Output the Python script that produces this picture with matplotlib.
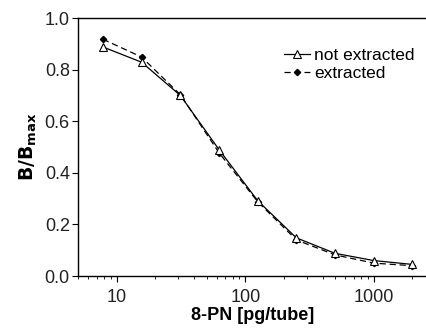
import numpy as np
import matplotlib.pyplot as plt
from matplotlib.ticker import LogLocator, NullFormatter, FixedLocator

plt.rcParams['font.family'] = ['Liberation Sans', 'DejaVu Sans']

conc = [7.8, 15.6, 31.25, 62.5, 125, 250, 500, 1000, 2000]
not_extracted = [0.888, 0.829, 0.700, 0.490, 0.292, 0.148, 0.088, 0.060, 0.045]
extracted = [0.918, 0.849, 0.703, 0.478, 0.288, 0.140, 0.082, 0.050, 0.040]

fig = plt.figure(figsize=(4.27, 3.29), dpi=100)
ax = fig.add_axes([0.183, 0.161, 0.817, 0.784])

ax.plot(conc, not_extracted, color='k', lw=0.9, marker='^', ms=6,
        mfc='white', mec='k', mew=0.8, label='not extracted', zorder=3)
ax.plot(conc, extracted, color='k', lw=0.9, ls=(0, (5, 3)), marker='D', ms=3.2,
        mfc='k', mec='k', label='extracted', zorder=2)

ax.set_xscale('log')
ax.set_xlim(5, 2600)
ax.set_ylim(0, 1.0)
ax.set_yticks([0.0, 0.2, 0.4, 0.6, 0.8, 1.0])
ax.yaxis.set_major_formatter(plt.FuncFormatter(lambda v, p: f'{v:.1f}'))
ax.xaxis.set_major_locator(FixedLocator([10, 100, 1000]))
ax.set_xticklabels(['10', '100', '1000'])
ax.xaxis.set_minor_locator(LogLocator(base=10, subs=np.arange(2, 10)))
ax.xaxis.set_minor_formatter(NullFormatter())

ax.spines['right'].set_visible(False)
for s in ['left', 'bottom', 'top']:
    ax.spines[s].set_linewidth(1.0)

ax.tick_params(which='major', direction='out', length=4, width=0.8, labelsize=13,
               pad=2, labelcolor='#222222')
ax.tick_params(which='minor', direction='out', length=2.5, width=0.6)
ax.tick_params(axis='x', which='major', pad=5)

ax.set_xlabel('8-PN [pg/tube]', fontsize=13, fontweight='bold', labelpad=1)
ax.set_ylabel(r'$\mathbf{B/B_{max}}$', fontsize=13.5, labelpad=4)

ax.legend(loc='upper right', bbox_to_anchor=(1.0, 0.93), frameon=False, fontsize=12.5,
          handlelength=1.5, handletextpad=0.25, labelspacing=0.15, borderpad=0.2)

fig.savefig('out.png', dpi=100)
